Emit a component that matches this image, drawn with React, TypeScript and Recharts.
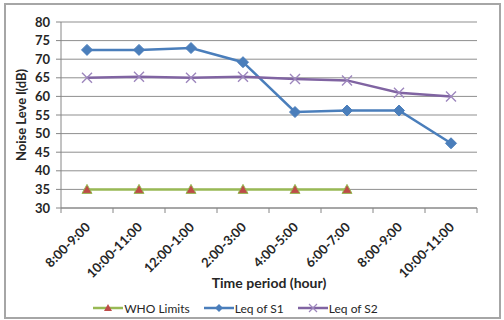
import { LineChart, Line, XAxis, YAxis, CartesianGrid, Legend } from "recharts"

const periods = ["8:00-9:00", "10:00-11:00", "12:00-1:00", "2:00-3:00", "4:00-5:00", "6:00-7:00", "8:00-9:00", "10:00-11:00"]
const whoLimits = [35, 35, 35, 35, 35, 35, null, null]
const leqS1 = [72.5, 72.5, 73, 69.2, 55.8, 56.2, 56.2, 47.4]
const leqS2 = [65, 65.3, 65, 65.3, 64.7, 64.3, 61, 60]
const yTicks = [30, 35, 40, 45, 50, 55, 60, 65, 70, 75, 80]

const data = periods.map((p, i) => ({
  key: i,
  period: p,
  who: whoLimits[i],
  s1: leqS1[i],
  s2: leqS2[i],
}))

const FONT = "Lato, 'Liberation Sans', sans-serif"
const TEXT = "#262626"
const AXIS = "#868686"

const Diamond = ({ cx, cy }: any) => {
  if (cx == null || cy == null) return null
  return <path d={`M${cx},${cy - 5.5}L${cx + 5.5},${cy}L${cx},${cy + 5.5}L${cx - 5.5},${cy}Z`} fill="#4a7ebb" stroke="#4a7ebb" />
}

const Cross = ({ cx, cy }: any) => {
  if (cx == null || cy == null) return null
  return (
    <path
      d={`M${cx - 5},${cy - 5}L${cx + 5},${cy + 5}M${cx - 5},${cy + 5}L${cx + 5},${cy - 5}`}
      stroke="#9d86bd"
      strokeWidth={1.4}
      fill="none"
    />
  )
}

const Triangle = ({ cx, cy }: any) => {
  if (cx == null || cy == null) return null
  return <path d={`M${cx},${cy - 5}L${cx + 5},${cy + 4}L${cx - 5},${cy + 4}Z`} fill="#be4b48" stroke="#98b954" strokeWidth={1} />
}

const PeriodTick = ({ x, y, payload, index }: any) => {
  const half = payload?.offset || 26
  const last = index === periods.length - 1
  return (
    <g>
      <line x1={x - half} y1={y - 8} x2={x - half} y2={y - 3} stroke={AXIS} />
      {last && <line x1={x + half} y1={y - 8} x2={x + half} y2={y - 3} stroke={AXIS} />}
      <text
        x={x + 4}
        y={y + 12}
        textAnchor="end"
        transform={`rotate(-45, ${x + 4}, ${y + 12})`}
        fontSize={13}
        fontWeight="bold"
        fontFamily={FONT}
        fill={TEXT}
      >
        {periods[payload.value]}
      </text>
    </g>
  )
}

const legendItems = [
  { name: "WHO Limits", color: "#98b954", marker: "tri" },
  { name: "Leq of S1", color: "#4a7ebb", marker: "dia" },
  { name: "Leq of S2", color: "#8064a2", marker: "x" },
]

const LegendContent = () => (
  <div style={{ display: "flex", justifyContent: "center", height: 20, fontFamily: FONT, fontSize: 12, color: TEXT, paddingLeft: 8 }}>
    {legendItems.map((it) => (
      <div key={it.name} style={{ display: "flex", alignItems: "center", marginRight: 14 }}>
        <svg width={30} height={12}>
          <line x1={0} y1={6} x2={30} y2={6} stroke={it.color} strokeWidth={2.5} />
          {it.marker === "tri" && <path d="M15,2L19,9L11,9Z" fill="#be4b48" />}
          {it.marker === "dia" && <path d="M15,2L19,6L15,10L11,6Z" fill="#4a7ebb" />}
          {it.marker === "x" && <path d="M11,2L19,10M11,10L19,2" stroke="#9d86bd" strokeWidth={1.2} />}
        </svg>
        <span style={{ marginLeft: 1 }}>{it.name}</span>
      </div>
    ))}
  </div>
)

export default function App() {
  return (
    <div style={{ position: "fixed", left: 0, top: 0, width: 504, height: 320, background: "#fff" }}>
      <div style={{ position: "absolute", left: 4, top: 3, width: 493, height: 312, border: "2px solid #a6a6a6" }} />
      <div style={{ position: "absolute", left: 0, top: 0 }}>
        <LineChart width={504} height={320} data={data} margin={{ top: 22, right: 27, left: 0, bottom: 0 }}>
          <CartesianGrid vertical={false} stroke="#8f8f8f" strokeWidth={1} />
          <XAxis
            dataKey="key"
            scale="band"
            interval={0}
            height={90}
            tickLine={false}
            axisLine={{ stroke: AXIS }}
            tick={<PeriodTick />}
            label={{
              value: "Time period (hour)",
              position: "insideBottom",
              offset: 10,
              fill: TEXT,
              fontSize: 14,
              fontWeight: "bold",
              fontFamily: FONT,
            }}
          />
          <YAxis
            domain={[30, 80]}
            ticks={yTicks}
            interval={0}
            width={61}
            tickSize={5}
            tickMargin={6}
            axisLine={{ stroke: AXIS }}
            tickLine={{ stroke: AXIS }}
            tick={{ fontSize: 13, fontWeight: "bold", fontFamily: FONT, fill: TEXT }}
            label={{
              value: "Noise Leve l(dB)",
              angle: -90,
              position: "insideLeft",
              offset: 21,
              style: { textAnchor: "middle" },
              fill: TEXT,
              fontSize: 13,
              fontWeight: "bold",
              fontFamily: FONT,
            }}
          />
          <YAxis yAxisId="frame" orientation="right" width={0} tick={false} tickLine={false} axisLine={{ stroke: "#9a9a9a" }} />
          <Legend content={<LegendContent />} verticalAlign="bottom" height={22} />
          <Line dataKey="who" name="WHO Limits" stroke="#98b954" strokeWidth={2.5} dot={<Triangle />} isAnimationActive={false} />
          <Line dataKey="s1" name="Leq of S1" stroke="#4a7ebb" strokeWidth={2.5} dot={<Diamond />} isAnimationActive={false} />
          <Line dataKey="s2" name="Leq of S2" stroke="#8064a2" strokeWidth={2.5} dot={<Cross />} isAnimationActive={false} />
        </LineChart>
      </div>
    </div>
  )
}
